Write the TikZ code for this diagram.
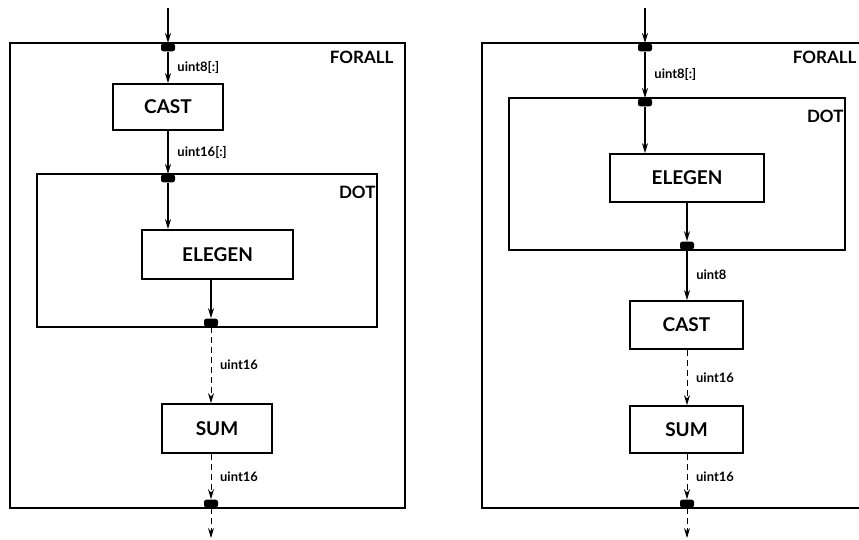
\documentclass[tikz,border=0pt]{standalone}
\usepackage{fontspec}
\setmainfont{Lato}
\usetikzlibrary{arrows.meta, positioning}

\tikzset{
    unit/.style={draw, line width=0.9pt, inner sep=0pt,
        font=\fontsize{9.5}{11}\selectfont\bfseries},
    region/.style={draw, line width=0.9pt, inner sep=0pt},
    regionlabel/.style={anchor=north east, inner sep=0pt,
        font=\fontsize{8.5}{10}\selectfont\bfseries},
    port/.style={fill=black, rounded corners=1.2pt, inner sep=0pt,
        minimum width=7pt, minimum height=4pt},
    flow/.style={line width=0.8pt, -{Stealth[length=5pt,width=3pt]}},
    scalarflow/.style={flow, line width=0.5pt, densely dashed},
    typelabel/.style={midway, right, xshift=1pt,
        font=\fontsize{6.5}{8}\selectfont\bfseries}
}

\begin{document}
\begin{tikzpicture}[x=0.5pt, y=-0.5pt]
    \useasboundingbox (0,0) rectangle (859,540);
    \clip (0,0) rectangle (859,540);

    % Left: CAST before DOT
    \node[region, minimum width=197.5pt, minimum height=232.5pt] (forallA) at (207.5,275.5) {};
    \node[regionlabel] at ([xshift=-6pt,yshift=-4.5pt]forallA.north east) {FORALL};
    \node[unit, minimum width=55pt, minimum height=23pt] (castA) at (168,107) {CAST};
    \node[region, minimum width=170pt, minimum height=76.5pt] (dotA) at (207,250.5) {};
    \node[regionlabel] at ([xshift=-1pt,yshift=-6.5pt]dotA.north east) {DOT};
    \node[unit, minimum width=75.5pt, minimum height=24.5pt] (elegenA) at (217.5,254.5) {ELEGEN};
    \node[unit, minimum width=55pt, minimum height=24.5pt] (sumA) at (217,428.5) {SUM};

    % Ports on the region borders
    \node[port, anchor=north] (pA1) at (168,43) {};
    \node[port, anchor=north] (pA2) at (168,174) {};
    \node[port, anchor=south] (pA3) at (211,327) {};
    \node[port, anchor=south] (pA4) at (211,508) {};
    \coordinate (inA) at (168,8);
    \coordinate (outA) at (211,538);

    % Flows
    \draw[flow] (inA) -- (pA1);
    \draw[flow] (pA1) -- (castA) node[typelabel] {uint8[:]};
    \draw[flow] (castA) -- (pA2) node[typelabel] {uint16[:]};
    \draw[flow] (pA2) -- (pA2 |- elegenA.north);
    \draw[flow] (pA3 |- elegenA.south) -- (pA3);
    \draw[scalarflow] (pA3) -- (pA3 |- sumA.north) node[typelabel] {uint16};
    \draw[scalarflow] (pA4 |- sumA.south) -- (pA4) node[typelabel] {uint16};
    \draw[scalarflow] (pA4) -- (outA);

    % Right: CAST after DOT
    \node[region, minimum width=197pt, minimum height=232.5pt] (forallB) at (679,275.5) {};
    \node[regionlabel] at ([xshift=-10pt,yshift=-4.5pt]forallB.north east) {FORALL};
    \node[region, minimum width=168pt, minimum height=76pt] (dotB) at (677,174) {};
    \node[regionlabel] at ([xshift=-1pt,yshift=-6.5pt]dotB.north east) {DOT};
    \node[unit, minimum width=77pt, minimum height=24pt] (elegenB) at (687,178) {ELEGEN};
    \node[unit, minimum width=56.5pt, minimum height=24pt] (castB) at (686.5,325) {CAST};
    \node[unit, minimum width=56.5pt, minimum height=23.5pt] (sumB) at (686.5,429.5) {SUM};

    % Ports on the region borders
    \node[port, anchor=north] (pB1) at (645,43) {};
    \node[port, anchor=north] (pB2) at (645,98) {};
    \node[port, anchor=south] (pB3) at (687,250) {};
    \node[port, anchor=south] (pB4) at (687,508) {};
    \coordinate (inB) at (645,8);
    \coordinate (outB) at (687,538);

    % Flows
    \draw[flow] (inB) -- (pB1);
    \draw[flow] (pB1) -- (pB2) node[typelabel] {uint8[:]};
    \draw[flow] (pB2) -- (pB2 |- elegenB.north);
    \draw[flow] (pB3 |- elegenB.south) -- (pB3);
    \draw[flow, line width=0.6pt] (pB3) -- (pB3 |- castB.north) node[typelabel] {uint8};
    \draw[scalarflow] (pB3 |- castB.south) -- (pB3 |- sumB.north) node[typelabel] {uint16};
    \draw[scalarflow] (pB4 |- sumB.south) -- (pB4) node[typelabel] {uint16};
    \draw[scalarflow] (pB4) -- (outB);
\end{tikzpicture}
\end{document}
